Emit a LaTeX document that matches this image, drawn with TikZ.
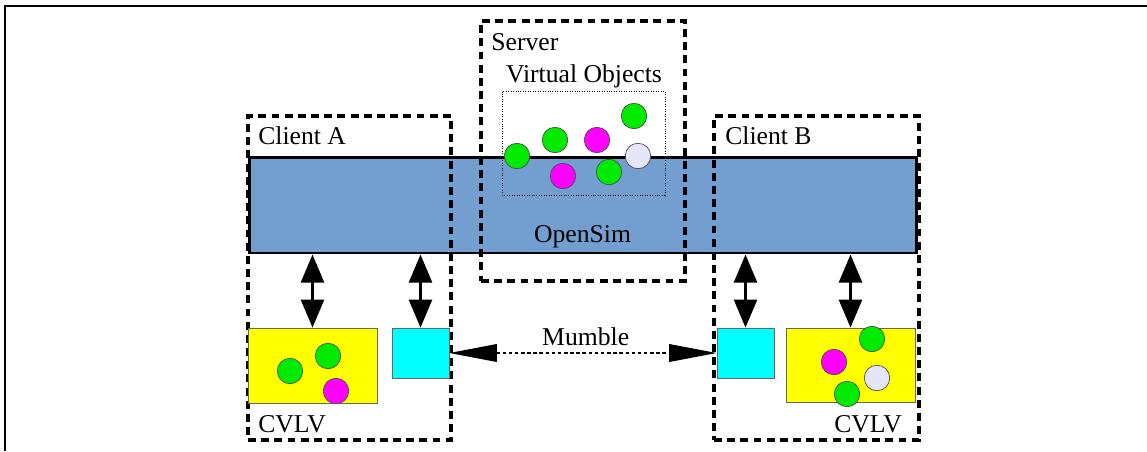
\documentclass[tikz,border=0pt]{standalone}
\usepackage{fontspec}
\setmainfont{Liberation Serif}
\usetikzlibrary{positioning,arrows.meta}

\definecolor{barblue}{RGB}{114,159,207}
\definecolor{objgreen}{RGB}{0,235,0}
\definecolor{objlav}{RGB}{230,230,250}
\definecolor{objpink}{RGB}{255,0,255}
\definecolor{voicecyan}{RGB}{0,255,255}
\definecolor{viewyellow}{RGB}{255,255,0}

\begin{document}
\begin{tikzpicture}[x=0.02cm,y=-0.02cm,
  group/.style={draw,line width=1.8pt,dash pattern=on 4.5pt off 3pt},
  obj/.style={circle,draw=black!70,minimum size=0.51cm,inner sep=0pt},
  lbl/.style={inner sep=0pt,font=\fontsize{14.6}{17}\selectfont},
  link/.style={line width=1.8pt,{Triangle[length=16pt,width=13pt]}-{Triangle[length=16pt,width=13pt]}},
  voice/.style={line width=0.9pt,dash pattern=on 2pt off 1.5pt,{Triangle[length=27pt,width=10pt]}-{Triangle[length=27pt,width=10pt]}}]

\useasboundingbox (0,0) rectangle (1147,451);

% Outer frame (cut by the page)
\coordinate (F1) at (5,451);
\coordinate (F2) at (5,6);
\coordinate (F3) at (1147,6);
\draw[line width=1.1pt] (F1) -- (F2) -- (F3);

% The OpenSim bar
\node[draw,line width=1.7pt,fill=barblue,minimum width=13.36cm,minimum height=1.92cm] (bar) at (583,205) {};
\node[lbl,anchor=base] (opensim) at (582.5,242) {OpenSim};

% Server and its virtual objects
\node[group,minimum width=4.08cm,minimum height=5.2cm] (server) at (583,151) {};
\node[lbl,anchor=base west] (serverlbl) at (491,50) {Server};
\node[draw,densely dotted,line width=0.4pt,minimum width=3.26cm,minimum height=2.08cm] (objects) at (583.5,143) {};
\node[lbl,anchor=base] (objectslbl) at (584,82) {Virtual Objects};

\foreach \n/\x/\y/\c in {vo1/517/156/objgreen, vo2/555/140/objgreen, vo3/597/140/objpink,
    vo4/634/116/objgreen, vo5/638/156/objlav, vo6/563/176/objpink, vo7/609/172/objgreen}
  \node[obj,fill=\c] (\n) at (\x,\y) {};

% Client A
\node[group,minimum width=4.06cm,minimum height=6.48cm] (clientA) at (349.5,278) {};
\node[lbl,anchor=base west] (clientAlbl) at (258,144) {Client A};
\node[draw=black!60,fill=viewyellow,minimum width=2.58cm,minimum height=1.5cm] (cvlvA) at (312.5,365.5) {};
\node[draw=black!60,fill=voicecyan,minimum width=1.14cm,minimum height=1cm] (voiceA) at (420.5,353) {};
\node[lbl,anchor=base west] (cvlvAlbl) at (258,432) {CVLV};
\foreach \n/\x/\y/\c in {a1/290/371/objgreen, a2/328/356/objgreen, a3/336/391/objpink}
  \node[obj,fill=\c] (\n) at (\x,\y) {};

% Client B
\node[group,minimum width=4.1cm,minimum height=6.48cm] (clientB) at (816.5,278) {};
\node[lbl,anchor=base west] (clientBlbl) at (725,144) {Client B};
\node[draw=black!60,fill=voicecyan,minimum width=1.14cm,minimum height=1cm] (voiceB) at (745.5,353) {};
\node[draw=black!60,fill=viewyellow,minimum width=2.58cm,minimum height=1.48cm] (cvlvB) at (850.5,365) {};
\node[lbl,anchor=base west] (cvlvBlbl) at (834,432) {CVLV};
\foreach \n/\x/\y/\c in {b1/872/339/objgreen, b2/834/362/objpink, b3/877/378/objlav, b4/847/394/objgreen}
  \node[obj,fill=\c] (\n) at (\x,\y) {};

% Links between the bar and the clients
\draw[link] (bar.south -| cvlvA.north) -- (cvlvA.north);
\draw[link] (bar.south -| voiceA.north) -- (voiceA.north);
\draw[link] (bar.south -| voiceB.north) -- (voiceB.north);
\draw[link] (bar.south -| cvlvB.north) -- (cvlvB.north);

% Voice link
\draw[voice] (voiceA.east) -- (voiceB.west) node[lbl,anchor=base,pos=0.51,yshift=4.5pt] (mumble) {Mumble};

\end{tikzpicture}
\end{document}
